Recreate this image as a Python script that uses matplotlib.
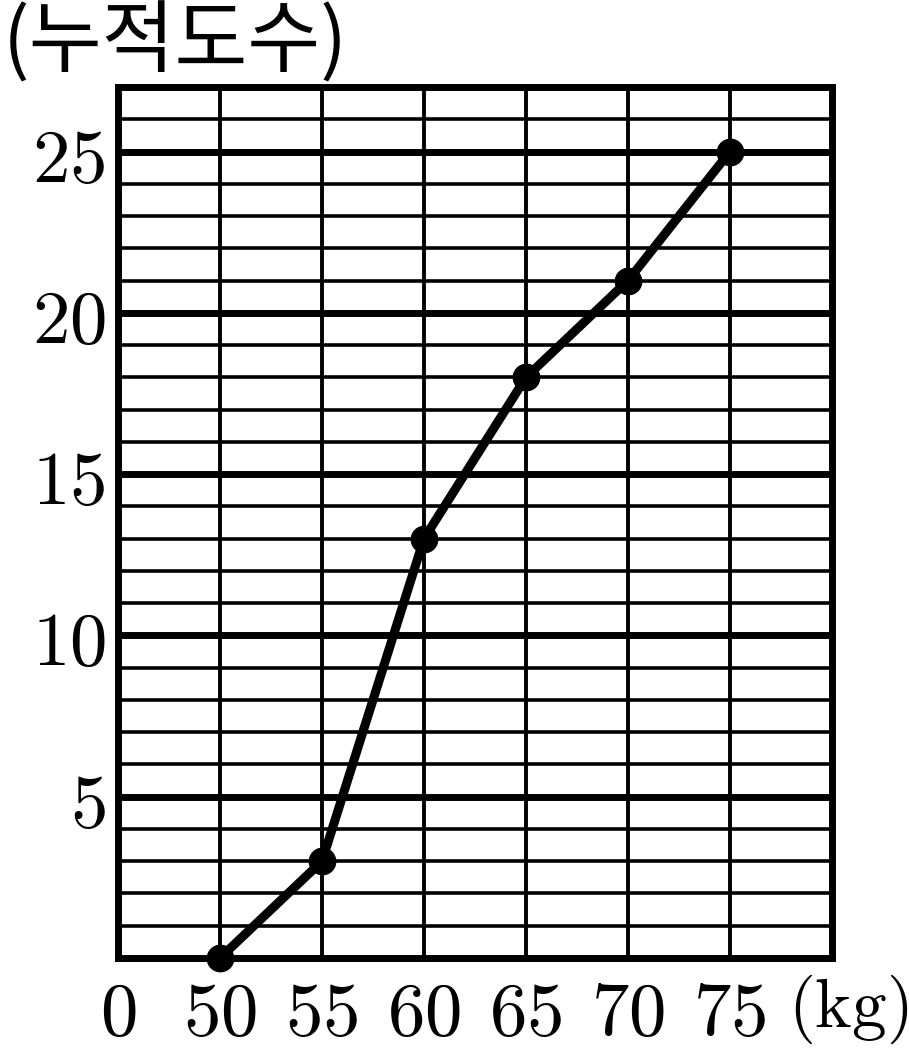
import numpy as np
import matplotlib.pyplot as plt

plt.rcParams['mathtext.fontset'] = 'cm'
plt.rcParams['font.family'] = ['Noto Sans CJK KR', 'DejaVu Sans']

# 몸무게(kg)와 누적도수
weights = [50, 55, 60, 65, 70, 75]
cum_freq = [0, 3, 13, 18, 21, 25]

x_ticks = [45, 50, 55, 60, 65, 70, 75]
x_labels = ['0', '50', '55', '60', '65', '70', '75']
y_ticks = [5, 10, 15, 20, 25]
y_labels = ['5', '10', '15', '20', '25']

fig = plt.figure(figsize=(9.09, 10.58), dpi=100)
ax = fig.add_axes([118 / 909, 1 - 958 / 1058, (832 - 118) / 909, (958 - 87) / 1058])
ax.set_xlim(45, 80)
ax.set_ylim(0, 27)

# 모눈: 1칸마다 가는 선, 5칸마다 굵은 선
for y in range(1, 27):
    lw = 5 if y % 5 == 0 else 2.6
    ax.axhline(y, color='black', lw=lw, zorder=1)
for x in range(50, 80, 5):
    ax.axvline(x, color='black', lw=2.8, zorder=1)

for s in ax.spines.values():
    s.set_linewidth(5)
    s.set_zorder(2)

ax.plot(weights, cum_freq, color='black', lw=6.5, marker='o', markersize=19,
        solid_capstyle='round', zorder=3, clip_on=False)

ax.set_xticks(x_ticks)
ax.set_xticklabels([f'${t}$' for t in x_labels], fontsize=54)
ax.set_yticks(y_ticks)
ax.set_yticklabels([f'${t}$' for t in y_labels], fontsize=54)
ax.tick_params(length=0)
ax.tick_params(axis='y', pad=9)
ax.tick_params(axis='x', pad=12)

ax.text(80.8, -1.6, r'$(\mathrm{kg})$', fontsize=50, ha='center', va='center', clip_on=False)
fig.text(3 / 909, 1 - 44 / 1058, '(누적도수)', fontsize=57, ha='left', va='center')

fig.savefig('out.png', dpi=100)
